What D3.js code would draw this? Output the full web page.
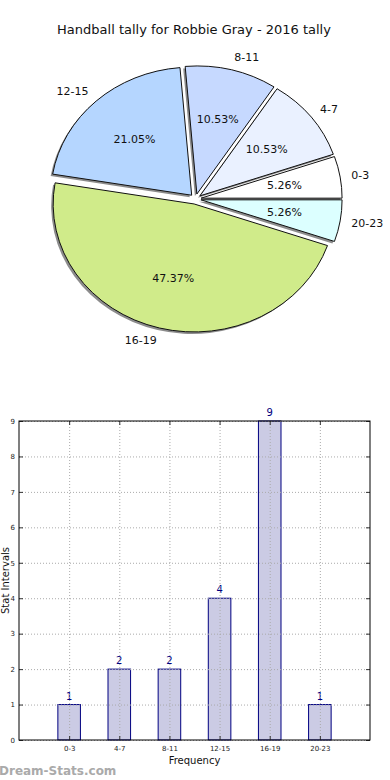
<!DOCTYPE html>
<html>
<head>
<meta charset="utf-8">
<script src="https://cdn.jsdelivr.net/npm/d3@7/dist/d3.min.js"></script>
<style>
  body { margin: 0; background: #fff; }
  svg { display: block; font-family: "DejaVu Sans", sans-serif; }
</style>
</head>
<body>
<div id="chart"></div>
<script>
// data
const categories = ["0-3", "4-7", "8-11", "12-15", "16-19", "20-23"];
const counts = [1, 2, 2, 4, 9, 1];
const sliceColors = ["#ffffff", "#eaf1ff", "#c6d9ff", "#b5d6ff", "#d0eb8a", "#dcffff"];
const yTicks = [0, 1, 2, 3, 4, 5, 6, 7, 8, 9];
const title = "Handball tally for Robbie Gray - 2016 tally";

const W = 390, H = 780;
const svg = d3.select("#chart").append("svg")
  .attr("width", W)
  .attr("height", H);

// title
svg.append("text")
  .attr("x", 194)
  .attr("y", 34)
  .attr("text-anchor", "middle")
  .style("font-size", "13px")
  .style("fill", "#111")
  .text(title);

// ---------- pie (elliptical, counter-clockwise from 3 o'clock like matplotlib) ----------
const cx = 195.5, cy = 199, rx = 141, ry = 128;
const explode = 0.04;
const total = d3.sum(counts);

const pie = d3.pie()
  .sort(null)
  .startAngle(Math.PI / 2)
  .endAngle(Math.PI / 2 - 2 * Math.PI);

const arcs = pie(counts);
const arc = d3.arc().innerRadius(0).outerRadius(1);

const midA = d => (d.startAngle + d.endAngle) / 2;
const offX = (d, k) => cx + rx * k * Math.sin(midA(d));
const offY = (d, k) => cy - ry * k * Math.cos(midA(d));

const pieG = svg.append("g");

// shadows
pieG.selectAll(".shadow")
  .data(arcs)
  .enter().append("path")
  .attr("class", "shadow")
  .attr("transform", d => `translate(${offX(d, explode) - 2}, ${offY(d, explode) + 2}) scale(${rx}, ${ry})`)
  .attr("d", arc)
  .style("fill", "#8c8c8c");

// slices
pieG.selectAll(".slice")
  .data(arcs)
  .enter().append("path")
  .attr("class", "slice")
  .attr("transform", d => `translate(${offX(d, explode)}, ${offY(d, explode)}) scale(${rx}, ${ry})`)
  .attr("d", arc)
  .attr("vector-effect", "non-scaling-stroke")
  .style("fill", (d, i) => sliceColors[i])
  .style("stroke", "#111")
  .style("stroke-width", 1);

// category labels
pieG.selectAll(".plabel")
  .data(arcs)
  .enter().append("text")
  .attr("x", d => offX(d, explode + 1.08))
  .attr("y", d => offY(d, explode + 1.1))
  .attr("dy", "0.35em")
  .attr("text-anchor", d => Math.sin(midA(d)) > 0 ? "start" : "end")
  .style("font-size", "11px")
  .style("fill", "#111")
  .text((d, i) => categories[i]);

// percent labels
pieG.selectAll(".pct")
  .data(arcs)
  .enter().append("text")
  .attr("x", d => offX(d, explode + 0.6))
  .attr("y", d => offY(d, explode + 0.6))
  .attr("dy", "0.35em")
  .attr("text-anchor", "middle")
  .style("font-size", "11px")
  .style("fill", "#111")
  .text(d => (d.value / total * 100).toFixed(2) + "%");

// ---------- bar chart ----------
const plotL = 19, plotR = 370, plotT = 421, plotB = 740;

const x = d3.scaleLinear().domain([0, categories.length + 1]).range([plotL, plotR]);
const y = d3.scaleLinear().domain([0, 9]).range([plotB, plotT]);
const barW = x(0.45) - x(0);

const bars = svg.append("g");

bars.selectAll("rect")
  .data(counts)
  .enter().append("rect")
  .attr("x", (d, i) => x(i + 1) - barW / 2)
  .attr("y", d => y(d))
  .attr("width", barW)
  .attr("height", d => y(0) - y(d))
  .style("fill", "#cbcbe4")
  .style("stroke", "#000080")
  .style("stroke-width", 1);

// dotted grid on top of the bars
const xVals = categories.map((c, i) => i + 1);

svg.append("g")
  .attr("transform", `translate(0, ${plotB})`)
  .call(d3.axisBottom(x).tickValues(xVals).tickSize(-(plotB - plotT)).tickFormat(""))
  .call(g => g.select(".domain").remove())
  .selectAll("line")
  .style("stroke", "#aaa")
  .style("stroke-dasharray", "1,2");

svg.append("g")
  .attr("transform", `translate(${plotL}, 0)`)
  .call(d3.axisLeft(y).tickValues(yTicks).tickSize(-(plotR - plotL)).tickFormat(""))
  .call(g => g.select(".domain").remove())
  .selectAll("line")
  .style("stroke", "#aaa")
  .style("stroke-dasharray", "1,2");

// value labels
bars.selectAll(".val")
  .data(counts)
  .enter().append("text")
  .attr("class", "val")
  .attr("x", (d, i) => x(i + 1))
  .attr("y", d => y(d) - 5)
  .attr("text-anchor", "middle")
  .style("font-size", "10px")
  .style("fill", "#000080")
  .text(d => d);

// axes with inward ticks on all four sides
const styleAxis = g => {
  g.select(".domain").remove();
  g.selectAll("line").style("stroke", "#333");
  g.selectAll("text").style("font-size", "7px").style("fill", "#222").style("font-family", "DejaVu Sans, sans-serif");
};

svg.append("g")
  .attr("transform", `translate(0, ${plotB})`)
  .call(d3.axisBottom(x).tickValues(xVals).tickSizeInner(-4).tickSizeOuter(0).tickPadding(6)
    .tickFormat(d => categories[d - 1]))
  .call(styleAxis);

svg.append("g")
  .attr("transform", `translate(0, ${plotT})`)
  .call(d3.axisTop(x).tickValues(xVals).tickSizeInner(-4).tickSizeOuter(0).tickFormat(""))
  .call(styleAxis);

svg.append("g")
  .attr("transform", `translate(${plotL}, 0)`)
  .call(d3.axisLeft(y).tickValues(yTicks).tickSizeInner(-4).tickSizeOuter(0).tickPadding(4))
  .call(styleAxis);

svg.append("g")
  .attr("transform", `translate(${plotR}, 0)`)
  .call(d3.axisRight(y).tickValues(yTicks).tickSizeInner(-4).tickSizeOuter(0).tickFormat(""))
  .call(styleAxis);

// frame
svg.append("rect")
  .attr("x", plotL)
  .attr("y", plotT)
  .attr("width", plotR - plotL)
  .attr("height", plotB - plotT)
  .style("fill", "none")
  .style("stroke", "#000")
  .style("stroke-width", 1);

// axis titles
svg.append("text")
  .attr("x", (plotL + plotR) / 2)
  .attr("y", 764)
  .attr("text-anchor", "middle")
  .style("font-size", "10px")
  .style("fill", "#111")
  .text("Frequency");

svg.append("text")
  .attr("transform", `translate(8.5, ${(plotT + plotB) / 2}) rotate(-90)`)
  .attr("text-anchor", "middle")
  .style("font-size", "10px")
  .style("fill", "#111")
  .text("Stat Intervals");

// watermark
svg.append("text")
  .attr("x", -1)
  .attr("y", 775)
  .style("font-size", "12px")
  .style("font-weight", "bold")
  .style("fill", "#aaa")
  .text("Dream-Stats.com");
</script>
</body>
</html>
